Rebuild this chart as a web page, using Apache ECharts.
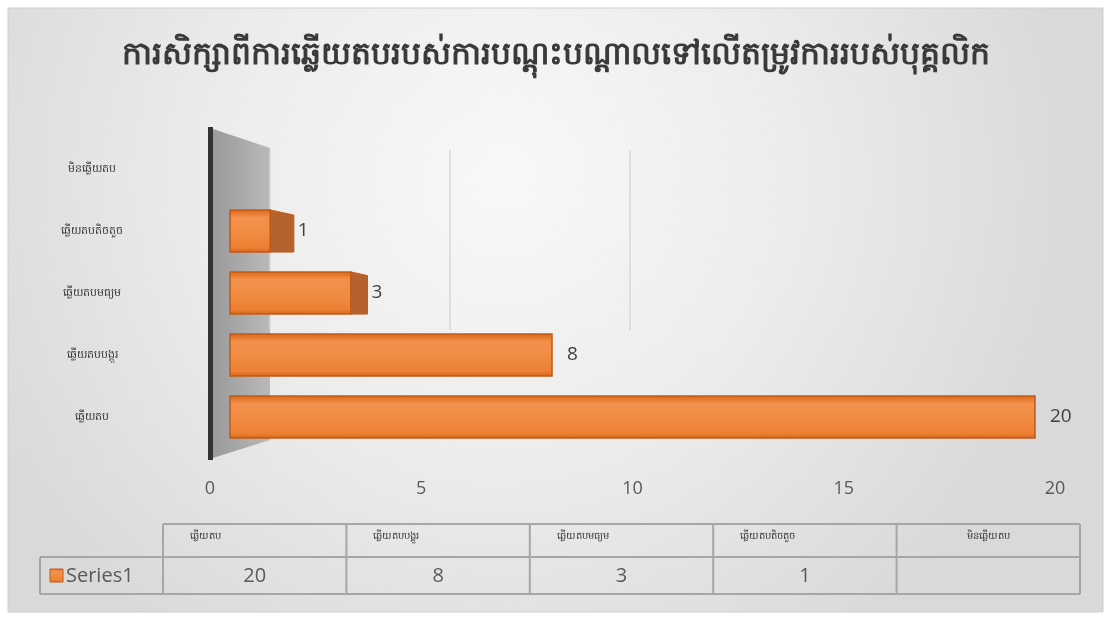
<!DOCTYPE html>
<html>
<head>
<meta charset="utf-8">
<script src="https://cdn.jsdelivr.net/npm/echarts@6/dist/echarts.min.js"></script>
<style>
  html, body { margin: 0; padding: 0; background: #ffffff; }
  #chart { width: 1111px; height: 621px; }
</style>
</head>
<body>
<div id="chart"></div>
<script>
// Chart content
const titleText = 'ការសិក្សាពីការឆ្លើយតបរបស់ការបណ្តុះបណ្តាលទៅលើតម្រូវការរបស់បុគ្គលិក';
const categories = ['ឆ្លើយតប', 'ឆ្លើយតបបង្គួរ', 'ឆ្លើយតបមធ្យម', 'ឆ្លើយតបតិចតួច', 'មិនឆ្លើយតប'];
const seriesName = 'Series1';
const values = [20, 8, 3, 1, null];
const axisMin = 0;
const axisMax = 20;
const axisStep = 5;

// Styling constants
const KH_FONT = "'Noto Sans', 'DejaVu Sans', sans-serif";
const NUM_FONT = "'Open Sans', 'Noto Sans', sans-serif";
const TEXT_COLOR = '#595959';
const BAR_RATIO = 0.68;
const VANISH_VALUE = 7.9;   // perspective point along the value axis
const SIDE_FACTOR = 0.085;  // depth of the visible end face

const W = 1111, H = 621;
const barGrid = { left: 230, right: 76, top: 138, height: 310 };
const axisGrid = { left: 210, right: 56, top: 138, height: 310 };
const backGrid = { left: 270, width: 360, top: 150, height: 180 };

const chart = echarts.init(document.getElementById('chart'), null, { renderer: 'canvas' });

const barData = values
  .map((v, i) => [v, i])
  .filter(d => d[0] !== null && d[0] !== undefined);

const barFill = new echarts.graphic.LinearGradient(0, 0, 0, 1, [
  { offset: 0, color: '#d5661c' },
  { offset: 0.08, color: '#e4772b' },
  { offset: 0.2, color: '#f3924e' },
  { offset: 0.6, color: '#f08a40' },
  { offset: 0.88, color: '#ec7f31' },
  { offset: 1, color: '#d2631a' }
]);

function renderBar(params, api) {
  const v = api.value(0);
  const idx = api.value(1);
  const p0 = api.coord([axisMin, idx]);
  const p1 = api.coord([v, idx]);
  const band = api.size([0, 1])[1];
  const h = band * BAR_RATIO;
  const top = p0[1] - h / 2;
  const vanishX = api.coord([VANISH_VALUE, idx])[0];
  const side = Math.max(0, (vanishX - p1[0]) * SIDE_FACTOR);
  const children = [
    {
      type: 'rect',
      shape: { x: p0[0], y: top, width: p1[0] - p0[0], height: h },
      style: { fill: barFill, stroke: '#c45a15', lineWidth: 1.5 }
    }
  ];
  if (side > 0.5) {
    children.push({
      type: 'polygon',
      shape: {
        points: [
          [p1[0], top],
          [p1[0] + side, top + side * 0.22],
          [p1[0] + side, top + h],
          [p1[0], top + h]
        ]
      },
      style: { fill: '#b4622e', stroke: '#c45a15', lineWidth: 1 }
    });
  }
  children.push({
    type: 'text',
    style: {
      text: String(v),
      x: p1[0] + side + (side > 0.5 ? 4 : 15),
      y: p0[1],
      align: 'left',
      verticalAlign: 'middle',
      fontSize: 19,
      fontFamily: NUM_FONT,
      fill: '#404040'
    }
  });
  return { type: 'group', children };
}

const option = {
  backgroundColor: '#ffffff',
  animation: false,
  title: {
    text: titleText,
    left: 'center',
    top: 34,
    textStyle: { fontSize: 31.5, fontWeight: 'bold', color: '#3a3a3a', fontFamily: KH_FONT }
  },
  grid: [
    Object.assign({ containLabel: false }, barGrid),
    Object.assign({ containLabel: false }, axisGrid),
    Object.assign({ containLabel: false }, backGrid)
  ],
  xAxis: [
    {
      gridIndex: 0, type: 'value', min: axisMin, max: axisMax,
      axisLine: { show: false }, axisTick: { show: false },
      axisLabel: { show: false }, splitLine: { show: false }
    },
    {
      gridIndex: 1, type: 'value', min: axisMin, max: axisMax, interval: axisStep,
      axisLine: { show: false }, axisTick: { show: false },
      splitLine: { show: false },
      axisLabel: { margin: 32, fontSize: 18, color: TEXT_COLOR, fontFamily: NUM_FONT }
    },
    {
      gridIndex: 2, type: 'value', min: axisMin, max: 2 * axisStep, interval: axisStep,
      axisLine: { show: false }, axisTick: { show: false }, axisLabel: { show: false },
      splitLine: { show: true, lineStyle: { color: '#d9d9d9', width: 1.5 } }
    }
  ],
  yAxis: [
    {
      gridIndex: 0, type: 'category', data: categories,
      axisLine: { show: false }, axisTick: { show: false },
      axisLabel: { margin: 138, align: 'center', fontSize: 11, color: '#3a3a3a', fontFamily: KH_FONT }
    },
    { gridIndex: 1, type: 'value', show: false },
    { gridIndex: 2, type: 'value', show: false }
  ],
  series: [
    {
      name: seriesName,
      type: 'custom',
      xAxisIndex: 0,
      yAxisIndex: 0,
      renderItem: renderBar,
      encode: { x: 0, y: 1 },
      data: barData,
      z: 5
    }
  ]
};

chart.setOption(option);

// Background panel, the 3D side wall and the data table under the chart
function buildGraphics() {
  const x0 = chart.convertToPixel({ xAxisIndex: 1 }, axisMin);
  const wallRight = chart.convertToPixel({ xAxisIndex: 2 }, axisMin);
  const wallTop = barGrid.top - 11;
  const wallBottom = barGrid.top + barGrid.height + 12;
  const elements = [];

  elements.push({
    type: 'rect', z: -100, silent: true,
    shape: { x: 8, y: 8, width: W - 16, height: H - 17 },
    style: {
      fill: new echarts.graphic.RadialGradient(0.45, 0.28, 0.95, [
        { offset: 0, color: '#f8f8f8' },
        { offset: 0.5, color: '#ececec' },
        { offset: 1, color: '#d9d9d9' }
      ]),
      stroke: '#cfcfcf', lineWidth: 1
    }
  });

  // side wall face
  elements.push({
    type: 'polygon', z: -50, silent: true,
    shape: {
      points: [
        [x0 + 3, wallTop + 2],
        [wallRight, backGrid.top - 2],
        [wallRight, barGrid.top + barGrid.height - 8],
        [x0 + 3, wallBottom - 2]
      ]
    },
    style: {
      fill: new echarts.graphic.LinearGradient(0, 0, 1, 0, [
        { offset: 0, color: '#9a9a9a' },
        { offset: 1, color: '#b9b9b9' }
      ])
    }
  });
  // wall edge
  elements.push({
    type: 'rect', z: -40, silent: true,
    shape: { x: x0 - 2, y: wallTop, width: 5, height: wallBottom - wallTop },
    style: { fill: '#333333' }
  });

  // data table
  const tLeft = 163, tRight = 1080, tTop = 524, tMid = 557, tBottom = 594, legendLeft = 40;
  const colW = (tRight - tLeft) / categories.length;
  const lineStyle = { stroke: '#a6a6a6', lineWidth: 2 };
  elements.push({ type: 'line', z: 10, shape: { x1: tLeft, y1: tTop, x2: tRight, y2: tTop }, style: lineStyle });
  elements.push({ type: 'line', z: 10, shape: { x1: legendLeft, y1: tMid, x2: tRight, y2: tMid }, style: lineStyle });
  elements.push({ type: 'line', z: 10, shape: { x1: legendLeft, y1: tBottom, x2: tRight, y2: tBottom }, style: lineStyle });
  elements.push({ type: 'line', z: 10, shape: { x1: legendLeft, y1: tMid, x2: legendLeft, y2: tBottom }, style: lineStyle });
  for (let i = 0; i <= categories.length; i++) {
    const x = tLeft + colW * i;
    elements.push({ type: 'line', z: 10, shape: { x1: x, y1: tTop, x2: x, y2: tBottom }, style: lineStyle });
  }
  categories.forEach((c, i) => {
    const last = i === categories.length - 1;
    elements.push({
      type: 'text', z: 11,
      style: {
        text: c,
        x: last ? tLeft + colW * (i + 0.5) : tLeft + colW * i + 27,
        y: tTop + 12,
        align: last ? 'center' : 'left',
        verticalAlign: 'middle',
        fontSize: 10, fontFamily: KH_FONT, fill: '#3a3a3a'
      }
    });
    const v = values[i];
    elements.push({
      type: 'text', z: 11,
      style: {
        text: v === null || v === undefined ? '' : String(v),
        x: tLeft + colW * (i + 0.5),
        y: (tMid + tBottom) / 2 + 1,
        align: 'center', verticalAlign: 'middle',
        fontSize: 20, fontFamily: NUM_FONT, fill: TEXT_COLOR
      }
    });
  });
  // legend key
  elements.push({
    type: 'rect', z: 11,
    shape: { x: 50, y: 569, width: 13, height: 13 },
    style: { fill: barFill, stroke: '#c45a15', lineWidth: 1 }
  });
  elements.push({
    type: 'text', z: 11,
    style: {
      text: seriesName, x: 66, y: (tMid + tBottom) / 2 + 1,
      align: 'left', verticalAlign: 'middle',
      fontSize: 20, fontFamily: "'Liberation Sans Narrow', 'Open Sans', sans-serif", fill: TEXT_COLOR
    }
  });

  chart.setOption({ graphic: { elements } });
}

buildGraphics();
</script>
</body>
</html>
